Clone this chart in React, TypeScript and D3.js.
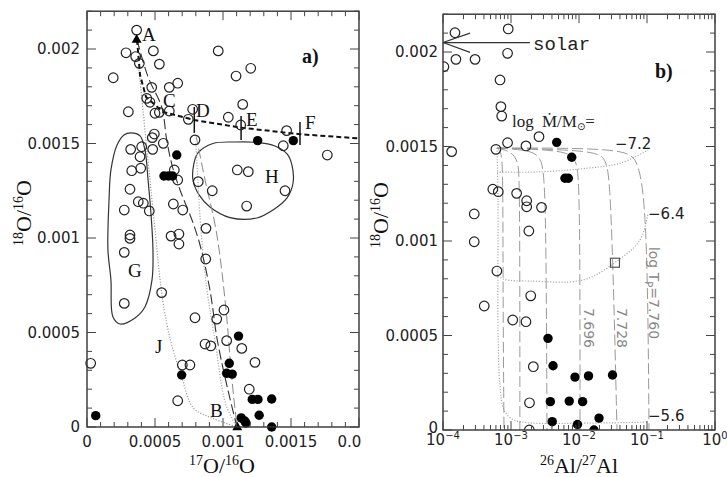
import React from 'react';
import * as d3 from 'd3';

// ---- panel a) 17O/16O vs 18O/16O ----
const openA: [number, number][] = [
  [0.000365, 0.0021], [0.000287, 0.00198], [0.000358, 0.00196], [0.000385, 0.001924], [0.000488, 0.00199],
  [0.000532, 0.00192], [0.000193, 0.001848], [0.000476, 0.001797], [0.000605, 0.001797], [0.000667, 0.001819],
  [0.000439, 0.001739], [0.000463, 0.001718], [0.000304, 0.001668], [0.0005, 0.00166], [0.000532, 0.001665],
  [0.000605, 0.001672], [0.000777, 0.001681], [0.000745, 0.001628], [0.000965, 0.00199], [0.001096, 0.001857],
  [0.001204, 0.001898], [0.001039, 0.001639], [0.001145, 0.001707], [0.00113, 0.001598], [0.000794, 0.001519],
  [0.001468, 0.001568], [0.001443, 0.001488], [0.001767, 0.001439], [0.000495, 0.00155], [0.00048, 0.001531],
  [0.000561, 0.001501], [0.000402, 0.001483], [0.000321, 0.001469], [0.000483, 0.001469], [0.00039, 0.00143],
  [0.000395, 0.001369], [0.000329, 0.001356], [0.000642, 0.00136], [0.000667, 0.001307], [0.000818, 0.001298],
  [0.000921, 0.00125], [0.001105, 0.00136], [0.001186, 0.001351], [0.001174, 0.001169], [0.001456, 0.00125],
  [0.000316, 0.001258], [0.000274, 0.001148], [0.000377, 0.001192], [0.000414, 0.001184], [0.000458, 0.001143],
  [0.000635, 0.00118], [0.000704, 0.001148], [0.000875, 0.001051], [0.000316, 0.001016], [0.000316, 0.000998],
  [0.000274, 0.000924], [0.000274, 0.000654], [0.000618, 0.00101], [0.000676, 0.001021], [0.000676, 0.000968],
  [0.000873, 0.000889], [0.000549, 0.000711], [0.000794, 0.000578], [0.000954, 0.000571], [0.001007, 0.000619],
  [0.001027, 0.000457], [0.000868, 0.000439], [0.00091, 0.000429], [0.000701, 0.000328], [0.000757, 0.000328],
  [0.000667, 0.000139], [0.000027, 0.000337], [0.001138, 0.000416], [0.001235, 0.000342], [0.001193, 0.0002],
];
const filledA: [number, number][] = [
  [0.001255, 0.001515], [0.001517, 0.001515], [0.00066, 0.001439], [0.000566, 0.001328], [0.000599, 0.001328],
  [0.000629, 0.001328], [0.000064, 0.00006], [0.000696, 0.000275], [0.001114, 0.000481], [0.001046, 0.000337],
  [0.001027, 0.000284], [0.001068, 0.00028], [0.001215, 0.000146], [0.001257, 0.000146], [0.001358, 0.000148],
  [0.001266, 0.000062], [0.001358, 0], [0.001134, 0.000048], [0.00116, 0.000032], [0.001169, 0.000021],
];
const trianglesA: [number, number][] = [[0.000365, 0.00205], [0.001105, 0]];

// first dredge-up line through C, D, E, F
const fduLine: [number, number][] = [
  [0.000368, 0.002048], [0.00039, 0.001862], [0.000434, 0.001746], [0.000559, 0.001667],
  [0.000789, 0.001624], [0.00113, 0.001584], [0.001566, 0.001549], [0.002, 0.001527],
];
const cbpLong: [number, number][] = [
  [0.000368, 0.002048], [0.000449, 0.001852], [0.000549, 0.001693], [0.000586, 0.001519], [0.000625, 0.001386],
  [0.000684, 0.001254], [0.000772, 0.001095], [0.000831, 0.000963], [0.000904, 0.000725], [0.000958, 0.00046],
  [0.001036, 0.000196], [0.001103, 0],
];
const cbpGrayDash: [number, number][] = [
  [0.000801, 0.001545], [0.000868, 0.001307], [0.000949, 0.001042], [0.001015, 0.000672], [0.001066, 0.000249], [0.001103, 0],
];
const cbpGrayDot: [number, number][] = [
  [0.000801, 0.001503], [0.000838, 0.001042], [0.000882, 0.000725], [0.000941, 0.00046], [0.001022, 0.000116], [0.001103, 0],
];
const curveJ: [number, number][] = [
  [0.000382, 0.00189], [0.000441, 0.001466], [0.000493, 0.001095], [0.000549, 0.000709], [0.000586, 0.00055],
  [0.000627, 0.000423], [0.000696, 0.000265], [0.000782, 0.000101], [0.000917, 0.000048], [0.001103, 0],
];
const regionG: [number, number][] = [
  [0.000324, 0.001556], [0.00039, 0.00154], [0.000426, 0.001466], [0.000449, 0.001307], [0.000471, 0.001122],
  [0.000485, 0.000937], [0.000478, 0.000778], [0.000426, 0.000635], [0.000353, 0.000577], [0.000243, 0.000545],
  [0.000191, 0.000582], [0.000176, 0.000778], [0.000154, 0.000937], [0.000162, 0.001201], [0.000176, 0.00136],
  [0.000221, 0.001492], [0.000272, 0.001545],
];
const regionH: [number, number][] = [
  [0.000816, 0.00145], [0.000926, 0.0015], [0.001088, 0.001508], [0.00125, 0.001506], [0.001382, 0.001487],
  [0.001471, 0.001445], [0.001507, 0.001386], [0.001515, 0.001291], [0.001471, 0.001212], [0.001368, 0.001148],
  [0.00125, 0.001106], [0.001051, 0.001108], [0.000904, 0.001164], [0.000824, 0.001228], [0.000779, 0.001307],
  [0.000787, 0.001397],
];
const massMarks = [
  { x: 0.000789, y0: 0.001556, y1: 0.001693 },
  { x: 0.001133, y0: 0.001519, y1: 0.001646 },
  { x: 0.001566, y0: 0.001492, y1: 0.001614 },
];
const lettersA = [
  { t: 'A', x: 0.000404, y: 0.002042 }, { t: 'C', x: 0.000559, y: 0.001693 }, { t: 'D', x: 0.000801, y: 0.00164 },
  { t: 'E', x: 0.001169, y: 0.001593 }, { t: 'F', x: 0.001603, y: 0.001577 }, { t: 'H', x: 0.001309, y: 0.001291 },
  { t: 'G', x: 0.000301, y: 0.000794 }, { t: 'J', x: 0.0005, y: 0.000392 }, { t: 'B', x: 0.000904, y: 0.000053 },
];

// ---- panel b) 26Al/27Al vs 18O/16O ----
const openB: [number, number][] = [
  [1.5e-4, 0.002102], [9.1e-4, 0.002122], [1.55e-4, 0.001961], [2.96e-4, 0.001961], [8.9e-4, 0.001993],
  [1.03e-4, 0.001922], [6.9e-4, 0.001852], [7.1e-4, 0.001711], [7.3e-4, 0.001661], [2.58e-3, 0.001552],
  [8.9e-4, 0.00152], [1.66e-3, 0.001503], [6.0e-4, 0.001485], [1.34e-4, 0.001473], [5.4e-4, 0.001274],
  [6.5e-4, 0.001261], [1.21e-3, 0.001252], [1.7e-3, 0.001213], [1.7e-3, 0.001181], [2.81e-3, 0.001178],
  [2.88e-4, 0.001143], [1.83e-3, 0.001053], [2.88e-4, 0.000996], [6.2e-4, 0.000841], [1.95e-3, 0.00071],
  [4.04e-4, 0.000656], [1.06e-3, 0.000582], [1.66e-3, 0.000573], [2.13e-3, 0.000335], [1.87e-3, 0.000144],
  [1.86e-3, 0],
];
const filledB: [number, number][] = [
  [4.7e-3, 0.001522], [7.82e-3, 0.001443], [6.22e-3, 0.001332], [6.97e-3, 0.001332], [3.5e-3, 0.000485],
  [4.15e-3, 0.00034], [8.73e-3, 0.00028], [1.38e-2, 0.000286], [3.11e-2, 0.000291], [3.79e-3, 0.00015],
  [7.19e-3, 0.000153], [1.13e-2, 0.00015], [4.04e-3, 0.000044], [9.5e-3, 0.000029], [1.97e-2, 0.000063],
  [1.66e-2, 0],
];
const squareB: [number, number] = [3.38e-2, 0.000885];

// constant-Tp model curves (long dashed)
const tpCurves: [number, number][][] = [
  [[6.22e-4, 0.001492], [7.13e-4, 0.001471], [7.62e-4, 0.001402], [7.62e-4, 0.000688], [7.89e-4, 0]],
  [[6.22e-4, 0.001492], [9.66e-4, 0.001476], [1.27e-3, 0.001429], [1.35e-3, 0.001323], [1.35e-3, 0]],
  [[6.22e-4, 0.001492], [1.9e-3, 0.001481], [2.76e-3, 0.001444], [3.27e-3, 0.001323], [3.38e-3, 0]],
  [[6.22e-4, 0.001492], [6.67e-3, 0.001481], [9.04e-3, 0.001429], [1.035e-2, 0.001323], [1.035e-2, 0]],
  [[6.22e-4, 0.001492], [1.84e-2, 0.001481], [2.49e-2, 0.001429], [2.86e-2, 0.001323], [3.27e-2, 0.000688], [3.62e-2, 0]],
  [[6.22e-4, 0.001492], [4.74e-2, 0.001492], [7.38e-2, 0.001429], [9.35e-2, 0.001217], [0.1035, 0.000688], [0.107, 0]],
];
// constant mass-loss curves (dotted)
const mdotCurves: [number, number][][] = [
  [[6.22e-4, 0.001492], [6.44e-4, 0.001217], [6.44e-4, 0.000529], [6.89e-4, 0.000238], [7.89e-4, 0.000106],
    [1.035e-3, 0.000058], [1.61e-3, 0.00004], [2.04e-2, 0.000037], [0.1035, 0.000042]],
  [[6.22e-4, 0.001365], [2.41e-3, 0.001365], [1.31e-2, 0.001385], [4.01e-2, 0.001411], [0.1035, 0.001481]],
  [[6.44e-4, 0.000815], [8.16e-4, 0.000796], [1.9e-3, 0.000788], [1.15e-2, 0.000794], [3.38e-2, 0.000886],
    [7.88e-2, 0.001005], [0.1035, 0.001148]],
];
const mdotLabels = [
  { t: '−7.2', x: 3.38e-2, y: 0.001487 },
  { t: '−6.4', x: 0.1035, y: 0.001116 },
  { t: '−5.6', x: 0.1035, y: 0.0000476 },
];
const tpLabels = [
  { t: '7.696', x: 1.38e-2, y: 0.00054 },
  { t: '7.728', x: 4.28e-2, y: 0.00054 },
];
const solarY = 0.00205;

// ticks
const yMajor = [0, 0.0005, 0.001, 0.0015, 0.002];
const yLabels = ['0', '0.0005', '0.001', '0.0015', '0.002'];
const aXMajor = [0, 0.0005, 0.001, 0.0015, 0.002];
const aXLabels = ['0', '0.0005', '0.001', '0.0015', '0.002'];
const bXMajor = [1e-4, 1e-3, 1e-2, 1e-1, 1];
const bXExp = ['−4', '−3', '−2', '−1', '0'];

const SERIF = "'Liberation Serif', 'DejaVu Serif', serif";
const SANS = "'DejaVu Sans', sans-serif";
const MONO = "'Liberation Mono', 'DejaVu Sans Mono', monospace";
const INK = '#222';

const ax = d3.scaleLinear().domain([0, 0.002]).range([87, 359]);
const ay = d3.scaleLinear().domain([0, 0.0022]).range([427, 11.2]);
const bx = d3.scaleLog().domain([1e-4, 1]).range([443, 715]);
const by = d3.scaleLinear().domain([0, 0.0022]).range([430, 14.2]);

const minorLin = d3.range(0, 0.00221, 0.0001);
const minorLog = d3.range(-4, 0).flatMap(e => d3.range(2, 10).map(k => k * Math.pow(10, e)));

type P = [number, number];

export default function App() {
  const la = d3.line<P>().x(d => ax(d[0])).y(d => ay(d[1]));
  const laSmooth = d3.line<P>().x(d => ax(d[0])).y(d => ay(d[1])).curve(d3.curveCatmullRom);
  const closed = d3.line<P>().x(d => ax(d[0])).y(d => ay(d[1])).curve(d3.curveCatmullRomClosed);
  const lbBasis = d3.line<P>().x(d => bx(d[0])).y(d => by(d[1])).curve(d3.curveBasis);
  const lbSmooth = d3.line<P>().x(d => bx(d[0])).y(d => by(d[1])).curve(d3.curveCatmullRom);

  const [ax0, ax1] = ax.range();
  const [ay0, ay1] = [ay(0), ay(0.0022)];
  const [bx0, bx1] = bx.range();
  const [by0, by1] = [by(0), by(0.0022)];

  const tri = (x: number, y: number, s: number) => `M${x},${y - s}L${x + s * 0.9},${y + s * 0.6}L${x - s * 0.9},${y + s * 0.6}Z`;

  const yTicks = (x0: number, x1: number, ys: d3.ScaleLinear<number, number>) => (
    <g stroke="#444" strokeWidth={1}>
      {minorLin.map((v, i) => {
        const major = Math.abs(Math.round(v / 0.0005) * 0.0005 - v) < 1e-9;
        const len = major ? 9 : 5;
        const y = ys(v);
        return (
          <g key={i}>
            <line x1={x0} x2={x0 + len} y1={y} y2={y} />
            <line x1={x1} x2={x1 - len} y1={y} y2={y} />
          </g>
        );
      })}
    </g>
  );

  return (
    <svg width={727} height={477} style={{ position: 'absolute', left: 0, top: 0, background: '#fff' }}>
      <defs>
        <clipPath id="clipB"><rect x={bx0} y={by1} width={bx1 - bx0} height={by0 - by1} /></clipPath>
        <clipPath id="clipLbl"><rect x={0} y={0} width={362} height={477} /></clipPath>
      </defs>

      {/* ===== panel a ===== */}
      <g fill="none">
        <path d={closed(regionG) || ''} stroke="#333" strokeWidth={1.2} />
        <path d={closed(regionH) || ''} stroke="#333" strokeWidth={1.2} />
        <path d={laSmooth(curveJ) || ''} stroke="#999" strokeWidth={1.2} strokeDasharray="1.2,1.6" />
        <path d={laSmooth(cbpGrayDot) || ''} stroke="#aaa" strokeWidth={1.2} strokeDasharray="1.2,1.6" />
        <path d={laSmooth(cbpGrayDash) || ''} stroke="#888" strokeWidth={1} strokeDasharray="10,4" />
        <path d={laSmooth(cbpLong) || ''} stroke="#333" strokeWidth={1.1} strokeDasharray="10,4" />
        <path d={la(fduLine) || ''} stroke="#111" strokeWidth={2} strokeDasharray="5,3" />
      </g>
      <g stroke="#111" strokeWidth={1.5}>
        {massMarks.map((m, i) => (
          <line key={i} x1={ax(m.x)} x2={ax(m.x)} y1={ay(m.y0)} y2={ay(m.y1)} />
        ))}
      </g>
      <g fill="none" stroke={INK} strokeWidth={1.2}>
        {openA.map((d, i) => <circle key={i} cx={ax(d[0])} cy={ay(d[1])} r={4.8} />)}
      </g>
      <g fill="#000">
        {filledA.map((d, i) => <circle key={i} cx={ax(d[0])} cy={ay(d[1])} r={4.7} />)}
        {trianglesA.map((d, i) => <path key={i} d={tri(ax(d[0]), ay(d[1]), 5.5)} />)}
      </g>
      <g fontFamily={SERIF} fontSize={19} fill="#111">
        {lettersA.map((l, i) => <text key={i} x={ax(l.x)} y={ay(l.y)}>{l.t}</text>)}
        <text x={ax(0.001581)} y={ay(0.001926)} fontWeight="bold" fontSize={20}>a)</text>
      </g>
      {/* frame and ticks a */}
      <rect x={ax0} y={ay1} width={ax1 - ax0} height={ay0 - ay1} fill="none" stroke="#333" strokeWidth={1.4} />
      {yTicks(ax0, ax1, ay)}
      <g stroke="#444" strokeWidth={1}>
        {minorLin.filter(v => v <= 0.002 + 1e-9).map((v, i) => {
          const major = Math.abs(Math.round(v / 0.0005) * 0.0005 - v) < 1e-9;
          const len = major ? 9 : 5;
          return (
            <g key={i}>
              <line x1={ax(v)} x2={ax(v)} y1={ay0} y2={ay0 - len} />
              <line x1={ax(v)} x2={ax(v)} y1={ay1} y2={ay1 + len} />
            </g>
          );
        })}
      </g>
      <g fontFamily={SANS} fontSize={15} fill="#222">
        {yMajor.map((v, i) => (
          <text key={i} x={80} y={ay(v)} dy="0.36em" textAnchor="end">{yLabels[i]}</text>
        ))}
        <g clipPath="url(#clipLbl)">
          {aXMajor.map((v, i) => (
            <text key={i} x={ax(v)} y={447} textAnchor="middle">{aXLabels[i]}</text>
          ))}
        </g>
      </g>
      <text x={222} y={473} textAnchor="middle" fontFamily={SERIF} fontSize={22} fill="#111">
        <tspan fontSize={14} dy={-8}>17</tspan><tspan dy={8}>O/</tspan>
        <tspan fontSize={14} dy={-8}>16</tspan><tspan dy={8}>O</tspan>
      </text>
      <text transform="translate(31,213) rotate(-90)" textAnchor="middle" fontFamily={SERIF} fontSize={22} fill="#111">
        <tspan fontSize={14} dy={-8}>18</tspan><tspan dy={8}>O/</tspan>
        <tspan fontSize={14} dy={-8}>16</tspan><tspan dy={8}>O</tspan>
      </text>

      {/* ===== panel b ===== */}
      <g clipPath="url(#clipB)">
        <g fill="none">
          {mdotCurves.map((c, i) => (
            <path key={'m' + i} d={lbSmooth(c) || ''} stroke="#aaa" strokeWidth={1.2} strokeDasharray="1.2,1.6" />
          ))}
          {tpCurves.map((c, i) => (
            <path key={'t' + i} d={lbBasis(c) || ''} stroke="#999" strokeWidth={1} strokeDasharray="11,4" />
          ))}
        </g>
        <g fill="none" stroke={INK} strokeWidth={1.2}>
          {openB.map((d, i) => <circle key={i} cx={bx(d[0])} cy={by(d[1])} r={4.8} />)}
          <rect x={bx(squareB[0]) - 4.5} y={by(squareB[1]) - 4.5} width={9} height={9} stroke="#555" />
        </g>
        <g fill="#000">
          {filledB.map((d, i) => <circle key={i} cx={bx(d[0])} cy={by(d[1])} r={4.7} />)}
        </g>
      </g>
      {/* solar arrow */}
      <g stroke="#333" strokeWidth={1.2} fill="none">
        <line x1={bx0} x2={bx(1.9e-3)} y1={by(solarY)} y2={by(solarY)} />
        <line x1={bx0} x2={bx(2.5e-4)} y1={by(solarY)} y2={by(0.0021)} />
        <line x1={bx0} x2={bx(2.5e-4)} y1={by(solarY)} y2={by(0.001998)} />
      </g>
      <text x={bx(2.11e-3)} y={by(0.00201)} fontFamily={MONO} fontSize={19} fill="#222">solar</text>
      <text x={bx(1.035e-3)} y={by(0.001603)} fontFamily={SERIF} fontSize={17} fill="#222">
        log <tspan dx={4}>Ṁ/M</tspan><tspan fontFamily={SANS} fontSize={10} dy={3}>⊙</tspan><tspan dy={-3}>=</tspan>
      </text>
      <g fontFamily={SANS} fontSize={15} fill="#222">
        {mdotLabels.map((l, i) => <text key={i} x={bx(l.x)} y={by(l.y)}>{l.t}</text>)}
      </g>
      <g fontFamily={SANS} fontSize={14} fill="#888" textAnchor="middle">
        {tpLabels.map((l, i) => (
          <text key={i} transform={`translate(${bx(l.x)},${by(l.y)}) rotate(90)`} dy="0.35em">{l.t}</text>
        ))}
        <text transform={`translate(${bx(0.1268)},${by(0.000725)}) rotate(90)`} dy="0.35em">
          log T<tspan fontSize={10} dy={4}>P</tspan><tspan dy={-4}>=7.760</tspan>
        </text>
      </g>
      <text x={bx(0.131)} y={by(0.001862)} fontFamily={SERIF} fontWeight="bold" fontSize={20} fill="#111">b)</text>

      {/* frame and ticks b */}
      <rect x={bx0} y={by1} width={bx1 - bx0} height={by0 - by1} fill="none" stroke="#333" strokeWidth={1.4} />
      {yTicks(bx0, bx1, by)}
      <g stroke="#444" strokeWidth={1}>
        {bXMajor.map((v, i) => (
          <g key={'M' + i}>
            <line x1={bx(v)} x2={bx(v)} y1={by0} y2={by0 - 9} />
            <line x1={bx(v)} x2={bx(v)} y1={by1} y2={by1 + 9} />
          </g>
        ))}
        {minorLog.map((v, i) => (
          <g key={'m' + i}>
            <line x1={bx(v)} x2={bx(v)} y1={by0} y2={by0 - 5} />
            <line x1={bx(v)} x2={bx(v)} y1={by1} y2={by1 + 5} />
          </g>
        ))}
      </g>
      <g fontFamily={SANS} fontSize={15} fill="#222">
        {yMajor.map((v, i) => (
          <text key={i} x={438} y={v === 0 ? by(v) - 2 : by(v)} dy="0.36em" textAnchor="end">{yLabels[i]}</text>
        ))}
        {bXMajor.map((v, i) => (
          <text key={'x' + i} x={bx(v)} y={445} textAnchor="middle">
            10<tspan fontSize={10} dy={-6}>{bXExp[i]}</tspan>
          </text>
        ))}
      </g>
      <text x={579} y={473} textAnchor="middle" fontFamily={SERIF} fontSize={22} fill="#111">
        <tspan fontSize={14} dy={-8}>26</tspan><tspan dy={8}>Al/</tspan>
        <tspan fontSize={14} dy={-8}>27</tspan><tspan dy={8}>Al</tspan>
      </text>
      <text transform="translate(388,215) rotate(-90)" textAnchor="middle" fontFamily={SERIF} fontSize={22} fill="#111">
        <tspan fontSize={14} dy={-8}>18</tspan><tspan dy={8}>O/</tspan>
        <tspan fontSize={14} dy={-8}>16</tspan><tspan dy={8}>O</tspan>
      </text>
    </svg>
  );
}
